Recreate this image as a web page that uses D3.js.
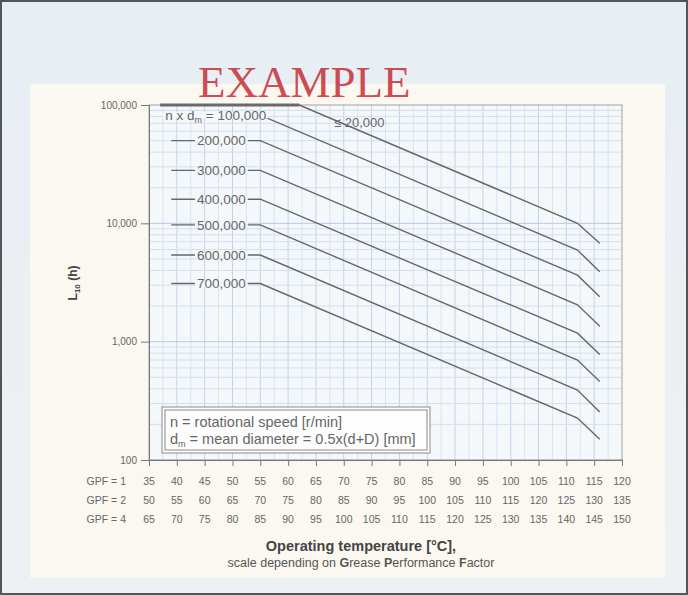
<!DOCTYPE html>
<html>
<head>
<meta charset="utf-8">
<script src="https://cdn.jsdelivr.net/npm/d3@7"></script>
<style>
  body { margin: 0; background: #fff; }
  svg { display: block; }
</style>
</head>
<body>
<svg id="chart" width="688" height="595"></svg>
<script>
// temperature scales (°C) for each grease performance factor
const gpf1 = [35, 40, 45, 50, 55, 60, 65, 70, 75, 80, 85, 90, 95, 100, 105, 110, 115, 120];
const gpf2 = [50, 55, 60, 65, 70, 75, 80, 85, 90, 95, 100, 105, 110, 115, 120, 125, 130, 135];
const gpf4 = [65, 70, 75, 80, 85, 90, 95, 100, 105, 110, 115, 120, 125, 130, 135, 140, 145, 150];
const gpfNames = ["GPF = 1", "GPF = 2", "GPF = 4"];

const lifeTicks = [100, 1000, 10000, 100000];

// one curve per n x dm value
const curveNames = ["≤ 20,000", "100,000", "200,000", "300,000", "400,000", "500,000", "600,000", "700,000"];
const startTemp = [37, 39, 39, 39, 39, 39, 39, 39];
const kneeTemp  = [62, 55, 55, 55, 55, 55, 55, 55];
const flatLife  = [100000, 82000, 50000, 28000, 16000, 9700, 5400, 3100];
const bendTemp = 112;
const bendLife  = [10000, 5950, 3650, 2050, 1180, 700, 390, 226];
const endTemp = 116;
const endLife   = [6800, 3900, 2400, 1350, 780, 460, 255, 150];

const svg = d3.select("#chart");
const W = 688, H = 595;

// backgrounds
const bg = svg.append("defs").append("linearGradient")
  .attr("id", "bgGrad").attr("x1", 0).attr("y1", 0).attr("x2", 0).attr("y2", 1);
bg.append("stop").attr("offset", "0%").attr("stop-color", "#e7eef4");
bg.append("stop").attr("offset", "100%").attr("stop-color", "#edf1f4");

svg.append("rect").attr("width", W).attr("height", H).attr("fill", "url(#bgGrad)");
svg.append("rect").attr("x", 30).attr("y", 84).attr("width", 635).attr("height", 494)
  .attr("fill", "#fbf8f1");
svg.append("rect").attr("x", 1).attr("y", 1).attr("width", W - 2).attr("height", H - 2)
  .attr("fill", "none").attr("stroke", "#555").attr("stroke-width", 2);

const x = d3.scaleLinear().domain([35, 120]).range([149, 622]);
const y = d3.scaleLog().domain([100, 100000]).range([460, 105]);

const plotBg = "#f4f8fb";
svg.append("rect")
  .attr("x", x(35)).attr("y", y(100000))
  .attr("width", x(120) - x(35)).attr("height", y(100) - y(100000))
  .attr("fill", plotBg);

// grid
const grid = svg.append("g");
d3.range(37.5, 120, 2.5).forEach(t => {
  grid.append("line")
    .attr("x1", x(t)).attr("x2", x(t)).attr("y1", y(100000)).attr("y2", y(100))
    .attr("stroke", t % 5 === 0 ? "#c3d3e6" : "#d8e3ef").attr("stroke-width", 1);
});
const minor = [];
[100, 1000, 10000].forEach(d => { for (let k = 1; k < 10; k++) minor.push(d * k); });
minor.forEach(v => {
  grid.append("line")
    .attr("x1", x(35)).attr("x2", x(120)).attr("y1", y(v)).attr("y2", y(v))
    .attr("stroke", lifeTicks.includes(v) ? "#b9cbe0" : "#d3dfec").attr("stroke-width", 1);
});

// frame
svg.append("rect")
  .attr("x", x(35)).attr("y", y(100000))
  .attr("width", x(120) - x(35)).attr("height", y(100) - y(100000))
  .attr("fill", "none").attr("stroke", "#a0a0a0");

// axes
const sans = "Liberation Sans, Arial, sans-serif";
const yAxis = svg.append("g").attr("transform", `translate(${x(35)},0)`)
  .call(d3.axisLeft(y).tickValues(lifeTicks).tickFormat(d3.format(",")).tickSize(8).tickPadding(4));
yAxis.select(".domain").attr("stroke", "#777");
yAxis.selectAll(".tick line").attr("stroke", "#777");
yAxis.selectAll("text").attr("font-family", sans)
  .attr("font-size", 10).attr("fill", "#666");

const xAxis = svg.append("g").attr("transform", `translate(0,${y(100)})`)
  .call(d3.axisBottom(x).tickValues(gpf1).tickFormat("").tickSize(6));
xAxis.select(".domain").attr("stroke", "#777");
xAxis.selectAll(".tick line").attr("stroke", "#777");

// GPF temperature rows
const rows = [gpf1, gpf2, gpf4];
const rowY = [485, 504, 523];
rows.forEach((vals, r) => {
  svg.append("text").attr("x", 126).attr("y", rowY[r])
    .attr("text-anchor", "end").attr("font-family", sans).attr("font-size", 10.5)
    .attr("fill", "#666").text(gpfNames[r]);
  svg.append("g").selectAll("text").data(vals).join("text")
    .attr("x", (d, i) => x(gpf1[i])).attr("y", rowY[r])
    .attr("text-anchor", "middle").attr("font-family", sans).attr("font-size", 10.5)
    .attr("fill", "#666").text(d => d);
});

// curves
const line = d3.line().x(d => x(d[0])).y(d => y(d[1]));
const curves = curveNames.map((name, i) => ({
  name,
  pts: [[startTemp[i], flatLife[i]], [kneeTemp[i], flatLife[i]],
        [bendTemp, bendLife[i]], [endTemp, endLife[i]]]
}));
svg.append("g").selectAll("path").data(curves).join("path")
  .attr("d", d => line(d.pts))
  .attr("fill", "none")
  .attr("stroke", "#666")
  .attr("stroke-width", 1.4);
// the upper limit line is drawn heavier along the top of the frame
svg.append("path")
  .attr("d", line(curves[0].pts.slice(0, 2)))
  .attr("stroke", "#6a6a6a").attr("stroke-width", 3);

// curve labels, each on a small patch of background so the line breaks
const labels = svg.append("g").attr("font-family", sans).attr("font-size", 13.5).attr("fill", "#666");
curves.forEach((c, i) => {
  if (i === 0) {
    labels.append("text").attr("x", 334).attr("y", y(flatLife[0]) + 22)
      .text(c.name).attr("font-size", 13);
    return;
  }
  const g = labels.append("g");
  const patch = g.append("rect").attr("fill", plotBg);
  const t = g.append("text")
    .attr("x", i === 1 ? x(47) : x(48)).attr("y", y(flatLife[i]))
    .attr("dy", "0.35em").attr("text-anchor", "middle");
  if (i === 1) {
    t.append("tspan").text("n x d");
    t.append("tspan").text("m").attr("font-size", 9).attr("dy", 3);
    t.append("tspan").text(" = " + c.name).attr("dy", -3);
  } else {
    t.text(c.name);
  }
  const b = t.node().getBBox();
  patch.attr("x", b.x - 2).attr("y", y(flatLife[i]) - 3)
    .attr("width", b.width + 4).attr("height", 6);
});

// legend box
const lg = svg.append("g");
lg.append("rect").attr("x", 162).attr("y", 407).attr("width", 268).attr("height", 46)
  .attr("fill", "#fdfdfd").attr("stroke", "#8a8a8a");
lg.append("rect").attr("x", 165).attr("y", 410).attr("width", 262).attr("height", 40)
  .attr("fill", "none").attr("stroke", "#8a8a8a");
lg.append("text").attr("x", 170).attr("y", 427).attr("font-family", sans)
  .attr("font-size", 14.5).attr("fill", "#666").text("n = rotational speed [r/min]");
const l2 = lg.append("text").attr("x", 170).attr("y", 444).attr("font-family", sans)
  .attr("font-size", 14.5).attr("fill", "#666");
l2.append("tspan").text("d");
l2.append("tspan").text("m").attr("font-size", 9).attr("dy", 3);
l2.append("tspan").text(" = mean diameter = 0.5x(d+D) [mm]").attr("dy", -3);

// y title
const yt = svg.append("text")
  .attr("transform", "translate(77,283) rotate(-90)")
  .attr("text-anchor", "middle").attr("font-family", sans)
  .attr("font-weight", "bold").attr("font-size", 12).attr("fill", "#444");
yt.append("tspan").text("L");
yt.append("tspan").text("10").attr("font-size", 8).attr("dy", 3);
yt.append("tspan").text(" (h)").attr("dy", -3);

// x title
svg.append("text").attr("x", 361).attr("y", 551).attr("text-anchor", "middle")
  .attr("font-family", sans).attr("font-weight", "bold").attr("font-size", 14.5)
  .attr("fill", "#444").text("Operating temperature [°C],");
const xt2 = svg.append("text").attr("x", 361).attr("y", 567).attr("text-anchor", "middle")
  .attr("font-family", sans).attr("font-size", 12.5).attr("fill", "#555");
xt2.append("tspan").text("scale depending on ");
xt2.append("tspan").text("G").attr("font-weight", "bold");
xt2.append("tspan").text("rease ");
xt2.append("tspan").text("P").attr("font-weight", "bold");
xt2.append("tspan").text("erformance ");
xt2.append("tspan").text("F").attr("font-weight", "bold");
xt2.append("tspan").text("actor");

// watermark
svg.append("text").attr("x", 198).attr("y", 97)
  .attr("font-family", "Liberation Serif, Times New Roman, serif")
  .attr("font-size", 45).attr("fill", "#c9343d").attr("fill-opacity", 0.9)
  .text("EXAMPLE");
</script>
</body>
</html>
